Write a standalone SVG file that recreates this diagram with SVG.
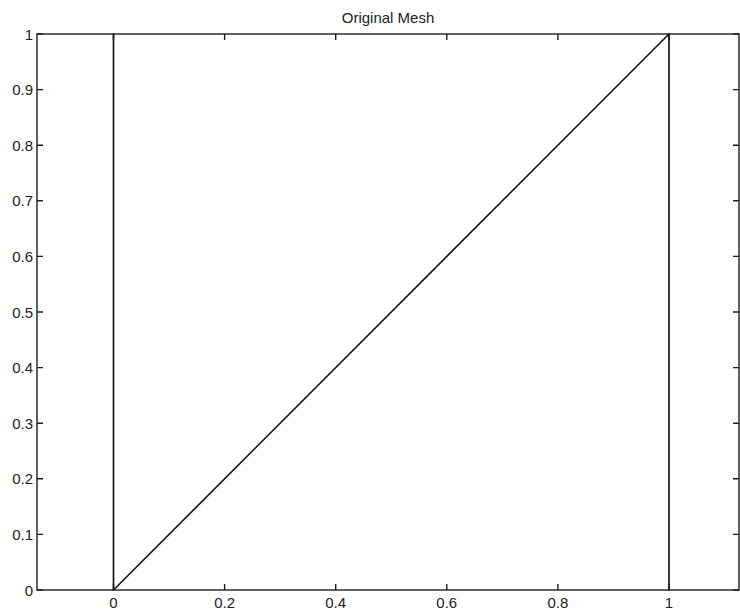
<svg xmlns="http://www.w3.org/2000/svg" width="740" height="616" viewBox="0 0 740 616">
<style>
.ax{stroke:#1e1e1e;stroke-width:1.4;fill:none}
.tk{stroke:#1e1e1e;stroke-width:1.4}
.mesh{stroke:#1a1a1a;stroke-width:1.7;fill:none;stroke-linecap:round}
text{font-family:"Liberation Sans",Arial,sans-serif;font-size:15px;fill:#222}
.yl{text-anchor:end}
.xl{text-anchor:middle}
</style>
<rect width="740" height="616" fill="#fff"/>
<text x="388" y="22.5" class="xl" style="font-size:15px">Original Mesh</text>
<g id="axes">
<rect class="ax" x="37" y="34" width="702" height="556"/>
<g id="xticks">
<path class="tk" d="M113.5 590v-6M224.6 590v-6M335.7 590v-6M446.8 590v-6M557.9 590v-6M669 590v-6M113.5 34v6M224.6 34v6M335.7 34v6M446.8 34v6M557.9 34v6M669 34v6"/>
</g>
<g id="yticks">
<path class="tk" d="M37 590h6M37 534.4h6M37 478.8h6M37 423.2h6M37 367.6h6M37 312h6M37 256.4h6M37 200.8h6M37 145.2h6M37 89.6h6M37 34h6M739 590h-6M739 534.4h-6M739 478.8h-6M739 423.2h-6M739 367.6h-6M739 312h-6M739 256.4h-6M739 200.8h-6M739 145.2h-6M739 89.6h-6M739 34h-6"/>
</g>
<g id="xlabels">
<text class="xl" x="113.5" y="608">0</text>
<text class="xl" x="224.6" y="608">0.2</text>
<text class="xl" x="335.7" y="608">0.4</text>
<text class="xl" x="446.8" y="608">0.6</text>
<text class="xl" x="557.9" y="608">0.8</text>
<text class="xl" x="669" y="608">1</text>
</g>
<g id="ylabels">
<text class="yl" x="33" y="595.5">0</text>
<text class="yl" x="33" y="539.9">0.1</text>
<text class="yl" x="33" y="484.3">0.2</text>
<text class="yl" x="33" y="428.7">0.3</text>
<text class="yl" x="33" y="373.1">0.4</text>
<text class="yl" x="33" y="317.5">0.5</text>
<text class="yl" x="33" y="261.9">0.6</text>
<text class="yl" x="33" y="206.3">0.7</text>
<text class="yl" x="33" y="150.7">0.8</text>
<text class="yl" x="33" y="95.1">0.9</text>
<text class="yl" x="33" y="39.5">1</text>
</g>
</g>
<g id="mesh">
<path class="mesh" d="M113.5 590V34M669 590V34M113.5 590L669 34"/>
</g>
</svg>
